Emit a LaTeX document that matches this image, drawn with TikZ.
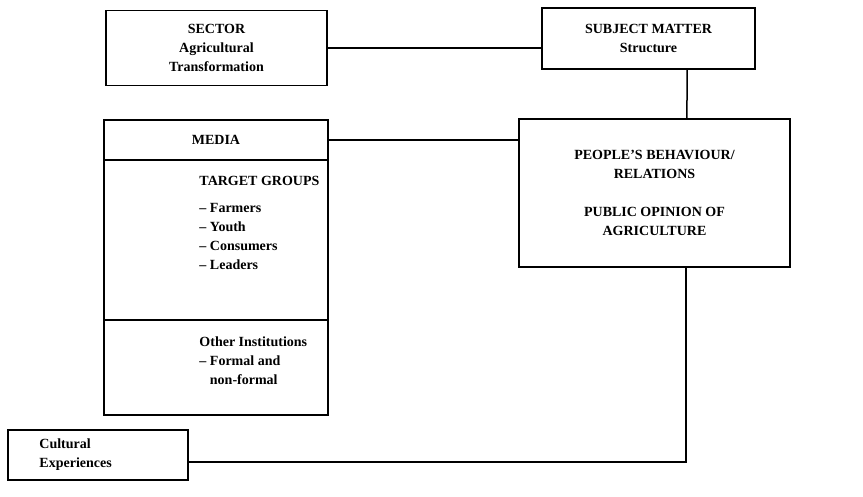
\documentclass[tikz,border=0pt]{standalone}
\usepackage{fontspec}
\setmainfont{Liberation Serif}
\usetikzlibrary{calc,positioning}
\tikzset{
    box/.style={rectangle, draw=black, line width=1.5pt, inner sep=0pt, align=center, font=\bfseries\fontsize{14}{19}\selectfont},
    txt/.style={inner sep=0pt, align=left, font=\bfseries\fontsize{14}{19}\selectfont},
    link/.style={draw=black, line width=1.5pt}
}

\begin{document}
\begin{tikzpicture}[x=1pt,y=1pt]
\useasboundingbox (0,0) rectangle (863,496);

% Top row: sector and subject matter
\node[box, minimum width=221pt, minimum height=75pt] (sector) at (216.5,448) {SECTOR\\Agricultural\\Transformation};
\node[box, minimum width=213pt, minimum height=61pt] (subject) at (648.5,457.5) {SUBJECT MATTER\\Structure};

% Left column: media, target groups, other institutions
\node[box, minimum width=224pt, minimum height=40pt] (media) at (216,356) {MEDIA};
\node[box, minimum width=224pt, minimum height=160pt] (target) at (216,256) {};
\node[txt, anchor=north west] (targettxt) at ($(target.north west)+(96,-17)$) {
    TARGET GROUPS\\[8pt]
    -- Farmers\\
    -- Youth\\
    -- Consumers\\
    -- Leaders
};
\node[box, minimum width=224pt, minimum height=95pt] (other) at (216,128.5) {};
\node[txt, anchor=north west] (othertxt) at ($(other.north west)+(96,-17)$) {
    Other Institutions\\
    -- Formal and\\
    \phantom{-- }non-formal
};

% Right: behaviour and public opinion
\node[box, minimum width=271pt, minimum height=148pt] (people) at (654.5,303) {
    PEOPLE'S BEHAVIOUR/\\RELATIONS\\[19pt]
    PUBLIC OPINION OF\\AGRICULTURE
};

% Bottom: cultural experiences
\node[box, minimum width=180pt, minimum height=50pt] (cultural) at (98,41) {};
\node[txt, anchor=west] (culturaltxt) at ($(cultural.west)+(32,0)$) {Cultural\\Experiences};

% Connections
\draw[link] (sector.east) -- (sector.east -| subject.west);
\draw[link] ($(subject.south west)!0.68!(subject.south east)$) -- ($(people.north west)!0.619!(people.north east)$);
\draw[link] (media.east) -- (media.east -| people.west);
\draw[link] ($(target.east)+(0,10)$) -- ($(target.east)+(0,10)$ -| people.west);
\draw[link] ($(cultural.east)+(0,-7)$) -| ($(people.south west)!0.616!(people.south east)$);

\end{tikzpicture}
\end{document}
